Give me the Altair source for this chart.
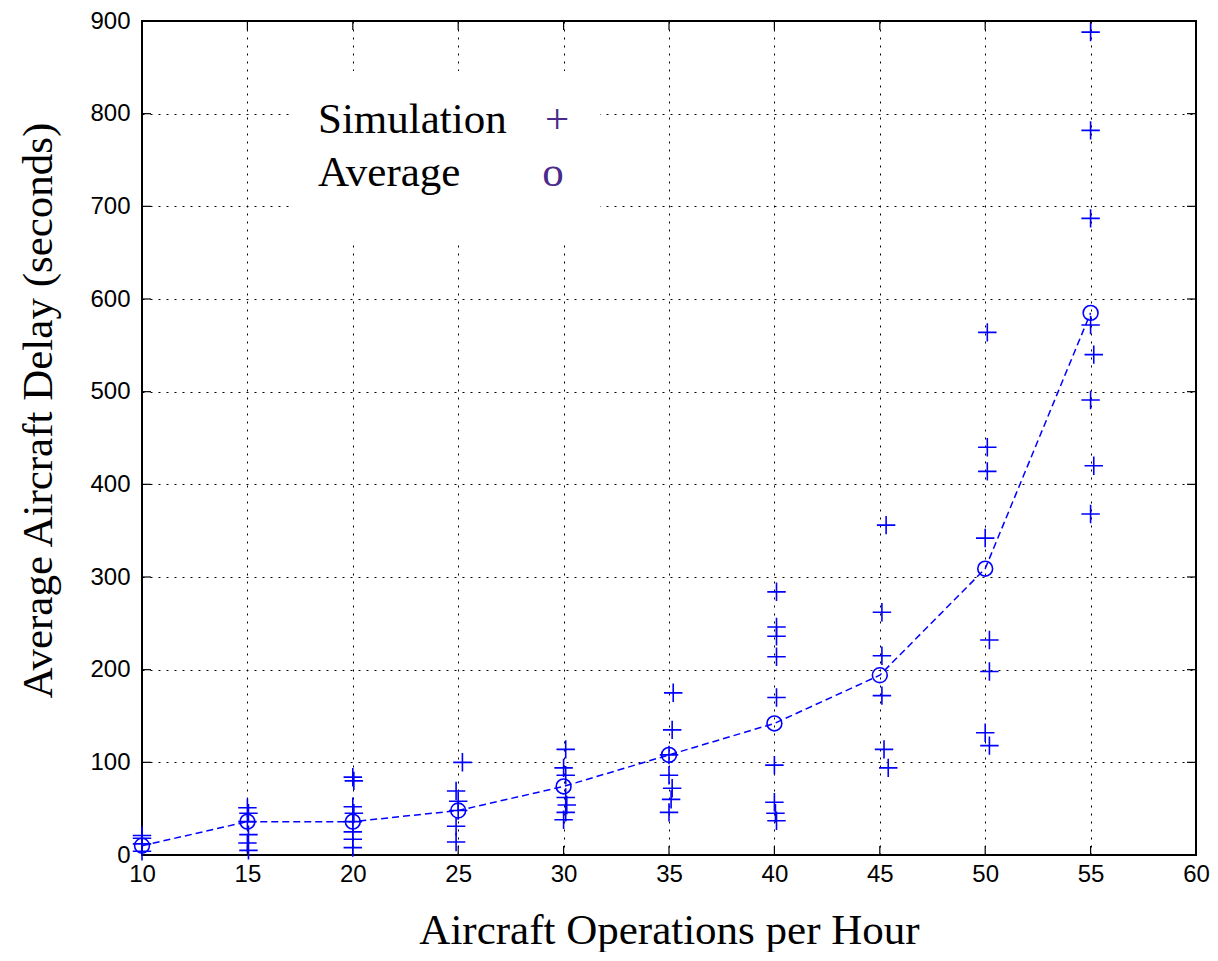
import altair as alt
import pandas as pd

# Simulation runs (x = operations per hour, slightly jittered as drawn; y = delay in seconds)
sim_x = [10, 10, 10, 10,
         15, 15.05, 15, 15.05, 15, 15.05,
         20, 20.05, 20, 20.05, 20, 20, 20, 20,
         25.2, 24.9, 25.0, 25.0, 24.9, 24.9,
         30.1, 30.0, 30.1, 30.1, 30.15, 30.1, 30.0,
         35.2, 35.15, 35.0, 35.0, 35.15, 35.1, 35.0,
         40.1, 40.1, 40.1, 40.1, 40.1, 40.0, 40.0, 40.05, 40.1,
         45.3, 45.1, 45.1, 45.1, 45.2, 45.4,
         50.1, 50.1, 50.1, 50.0, 50.2, 50.2, 50.0, 50.2,
         55.0, 55.0, 55.0, 55.0, 55.15, 55.0, 55.15, 55.0]
sim_y = [21, 18, 12, 4,
         51, 45, 36, 22, 13, 5,
         84, 80, 52, 45, 36, 25, 17, 8,
         100, 69, 58, 48, 31, 14,
         114, 94, 86, 62, 54, 46, 38,
         175, 135, 108, 86, 72, 60, 46,
         284, 246, 236, 214, 170, 97, 57, 45, 37,
         356, 262, 215, 172, 114, 94,
         564, 440, 414, 342, 232, 198, 132, 118,
         888, 782, 687, 572, 540, 491, 420, 368]

# Averages
avg_x = [10, 15, 20, 25, 30, 35, 40, 45, 50, 55]
avg_y = [10, 36, 36, 48, 74, 108, 142, 194, 309, 585]

x_ticks = [10, 15, 20, 25, 30, 35, 40, 45, 50, 55, 60]
y_ticks = [0, 100, 200, 300, 400, 500, 600, 700, 800, 900]

legend_labels = ["Simulation", "Average"]
legend_glyphs = ["+", "o"]

W, H = 1054, 834
BLUE = "#0000ff"
PURPLE = "#4a2a8a"
SERIF = "Liberation Serif"
SANS = "Liberation Sans"

xscale = alt.Scale(domain=[10, 60], nice=False, zero=False)
yscale = alt.Scale(domain=[0, 900], nice=False, zero=True)

sim_df = pd.DataFrame({"x": sim_x, "y": sim_y})
avg_df = pd.DataFrame({"x": avg_x, "y": avg_y})
xt_df = pd.DataFrame({"v": x_ticks})
yt_df = pd.DataFrame({"v": y_ticks})
one = pd.DataFrame({"k": [0]})

axis_common = dict(
    grid=True, gridColor="black", gridDash=[2, 6], gridWidth=1, gridOpacity=1,
    ticks=False, tickSize=0, domain=False, labelFlush=False, labelOverlap=False,
    labelFont=SANS, labelFontSize=24, labelColor="black",
    titleFont=SERIF, titleFontSize=43, titleFontWeight="normal", titleColor="black",
)

# base layer carries the axes (invisible marks)
base = alt.Chart(avg_df).mark_point(opacity=0).encode(
    x=alt.X("x:Q", scale=xscale,
            axis=alt.Axis(values=x_ticks, title="Aircraft Operations per Hour",
                          labelPadding=7, titleY=88, titleBaseline="alphabetic",
                          **axis_common)),
    y=alt.Y("y:Q", scale=yscale,
            axis=alt.Axis(values=y_ticks, title="Average Aircraft Delay (seconds)",
                          labelPadding=12, titleX=-91, titleY=389,
                          titleBaseline="alphabetic", titleAngle=-90,
                          **axis_common)),
)

# legend box (white) hiding grid
legend_box = alt.Chart(one).mark_rect(color="white").encode(
    x=alt.value(148), x2=alt.value(458), y=alt.value(50), y2=alt.value(224)
)

legend_df = pd.DataFrame({"label": legend_labels, "glyph": legend_glyphs,
                          "row": [0, 1]})
row_y = alt.Y("row:O", scale=alt.Scale(domain=[0, 1], range=[112, 165], padding=0),
              axis=None)
legend_text = alt.Chart(legend_df).mark_text(
    font=SERIF, fontSize=43, align="left", baseline="alphabetic", color="black"
).encode(
    x=alt.value(176),
    y=row_y,
    text="label:N",
)
legend_glyph = alt.Chart(legend_df).mark_text(
    font=SERIF, fontSize=43, align="center", baseline="alphabetic", color=PURPLE
).encode(
    x=alt.X("row:O", scale=alt.Scale(domain=[0, 1], range=[415, 411], padding=0), axis=None),
    y=row_y,
    text="glyph:N",
)

line = alt.Chart(avg_df).mark_line(color=BLUE, strokeWidth=1.5, strokeDash=[7, 4]).encode(
    x=alt.X("x:Q", scale=xscale, axis=None),
    y=alt.Y("y:Q", scale=yscale, axis=None),
)
circles = alt.Chart(avg_df).mark_point(
    shape="circle", filled=False, color=BLUE, size=220, strokeWidth=1.6, opacity=1
).encode(
    x=alt.X("x:Q", scale=xscale, axis=None),
    y=alt.Y("y:Q", scale=yscale, axis=None),
)
pluses = alt.Chart(sim_df).mark_point(
    shape="M-1,0L1,0M0,-1L0,1", filled=False, color=BLUE, size=340, strokeWidth=1.6, opacity=1
).encode(
    x=alt.X("x:Q", scale=xscale, axis=None),
    y=alt.Y("y:Q", scale=yscale, axis=None),
)

# inward tick marks on all four sides
tk = dict(color="black", strokeWidth=1.2)
xt_bottom = alt.Chart(xt_df).mark_rule(**tk).encode(
    x=alt.X("v:Q", scale=xscale, axis=None), y=alt.value(H), y2=alt.value(H - 9))
xt_top = alt.Chart(xt_df).mark_rule(**tk).encode(
    x=alt.X("v:Q", scale=xscale, axis=None), y=alt.value(0), y2=alt.value(9))
yt_left = alt.Chart(yt_df).mark_rule(**tk).encode(
    y=alt.Y("v:Q", scale=yscale, axis=None), x=alt.value(0), x2=alt.value(9))
yt_right = alt.Chart(yt_df).mark_rule(**tk).encode(
    y=alt.Y("v:Q", scale=yscale, axis=None), x=alt.value(W), x2=alt.value(W - 9))

chart = alt.layer(
    base, legend_box, xt_bottom, xt_top, yt_left, yt_right,
    line, circles, pluses, legend_text, legend_glyph
).resolve_scale(
    x="shared", y="shared"
).properties(
    width=W, height=H,
    autosize=alt.AutoSizeParams(type="none"),
    padding={"left": 134, "top": 13, "right": 14, "bottom": 97},
    background="white",
).configure_view(
    stroke="black", strokeWidth=2
)

chart.save("out.html", embed_options={"renderer": "svg", "actions": False})
